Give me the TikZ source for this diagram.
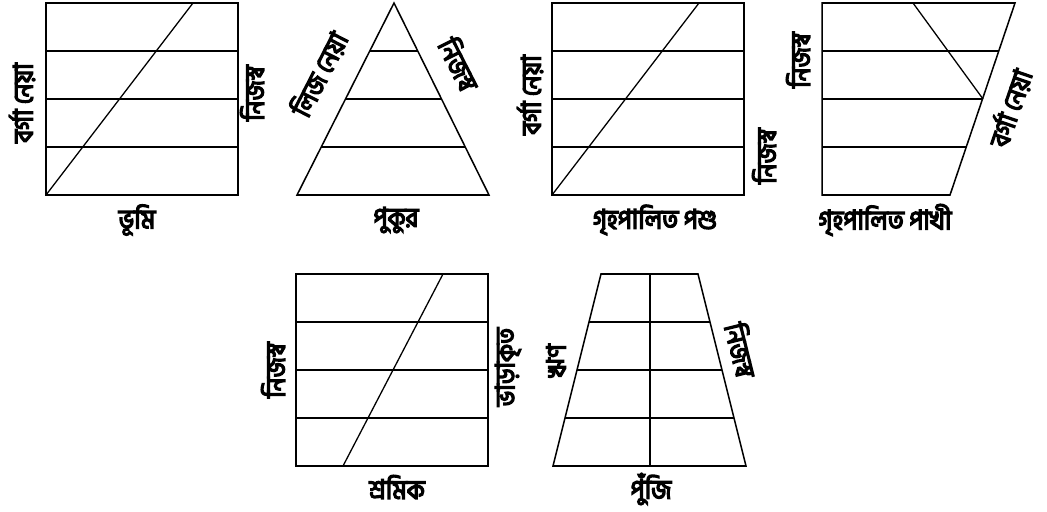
\documentclass[tikz,border=0pt]{standalone}
\usepackage{fontspec}
\newfontfamily\bnfont[Script=Bengali,FakeBold=5,FakeStretch=0.9]{Hind Siliguri}
\usepackage{tikz}

\begin{document}
\begin{tikzpicture}[x=0.03cm,y=-0.03cm,
  fr/.style={line width=1.3pt,line join=miter},
  ln/.style={line width=1.1pt},
  lbl/.style={font=\bnfont\fontsize{23}{25}\selectfont,inner sep=1pt},
  up/.style={lbl,rotate=90}]
  \useasboundingbox (0,0) rectangle (1047,512);
  % (1) land
  \draw[fr] (46,3) rectangle (238,195);
  \foreach \y in {51,99,147} \draw[ln] (46,\y) -- (238,\y);
  \draw[ln] (46,195) -- (193,3);
  \node[up] (bl) at (22,103) {বর্গা নেয়া};
  \node[up] (br) at (252,93) {নিজস্ব};
  \node[lbl] (bt) at (137,220) {ভূমি};
  % (2) pond
  \draw[fr] (394,3) -- (489,195) -- (297,195) -- cycle;
  \foreach \y in {51,99,147}
    \draw[ln] ({394-97*(\y-3)/192},\y) -- ({394+95*(\y-3)/192},\y);
  \node[lbl,rotate=63] (pl) at (319,74) {লিজ নেয়া};
  \node[lbl,rotate=-63] (pr) at (460,64) {নিজস্ব};
  \node[lbl] (pt) at (396,220) {পুকুর};
  % (3) livestock
  \draw[fr] (552,3) rectangle (744,195);
  \foreach \y in {51,99,147} \draw[ln] (552,\y) -- (744,\y);
  \draw[ln] (552,195) -- (699,3);
  \node[up] (ll) at (530,95) {বর্গা নেয়া};
  \node[up] (lr) at (764,156) {নিজস্ব};
  \node[lbl] (lt) at (655,220) {গৃহপালিত পশু};
  % (4) poultry
  \draw[fr] (822,3) -- (1015,3) -- (950,195) -- (822,195) -- cycle;
  \foreach \y in {51,99,147}
    \draw[ln] (822,\y) -- ({1015-65*(\y-3)/192},\y);
  \draw[ln] (913,3) -- (983,99);
  \node[up] (ql) at (798,60) {নিজস্ব};
  \node[lbl,rotate=71] (qr) at (1010,108) {বর্গা নেয়া};
  \node[lbl] (qt) at (885,220) {গৃহপালিত পাখী};
  % (5) labour
  \draw[fr] (296,274) rectangle (488,466);
  \foreach \y in {322,370,418} \draw[ln] (296,\y) -- (488,\y);
  \draw[ln] (343,466) -- (443,274);
  \node[up] (wl) at (273,370) {নিজস্ব};
  \node[up] (wr) at (508,367) {ভাড়াকৃত};
  \node[lbl] (wt) at (397,487) {শ্রমিক};
  % (6) capital
  \draw[fr] (601,274) -- (698,274) -- (746,466) -- (553,466) -- cycle;
  \foreach \y in {322,370,418}
    \draw[ln] ({601-48*(\y-274)/192},\y) -- ({698+48*(\y-274)/192},\y);
  \draw[ln] (650,274) -- (650,466);
  \node[up] (cl) at (556,361) {ঋণ};
  \node[lbl,rotate=-76] (cr) at (742,350) {নিজস্ব};
  \node[lbl] (ct) at (651,489) {পুঁজি};
\end{tikzpicture}
\end{document}
